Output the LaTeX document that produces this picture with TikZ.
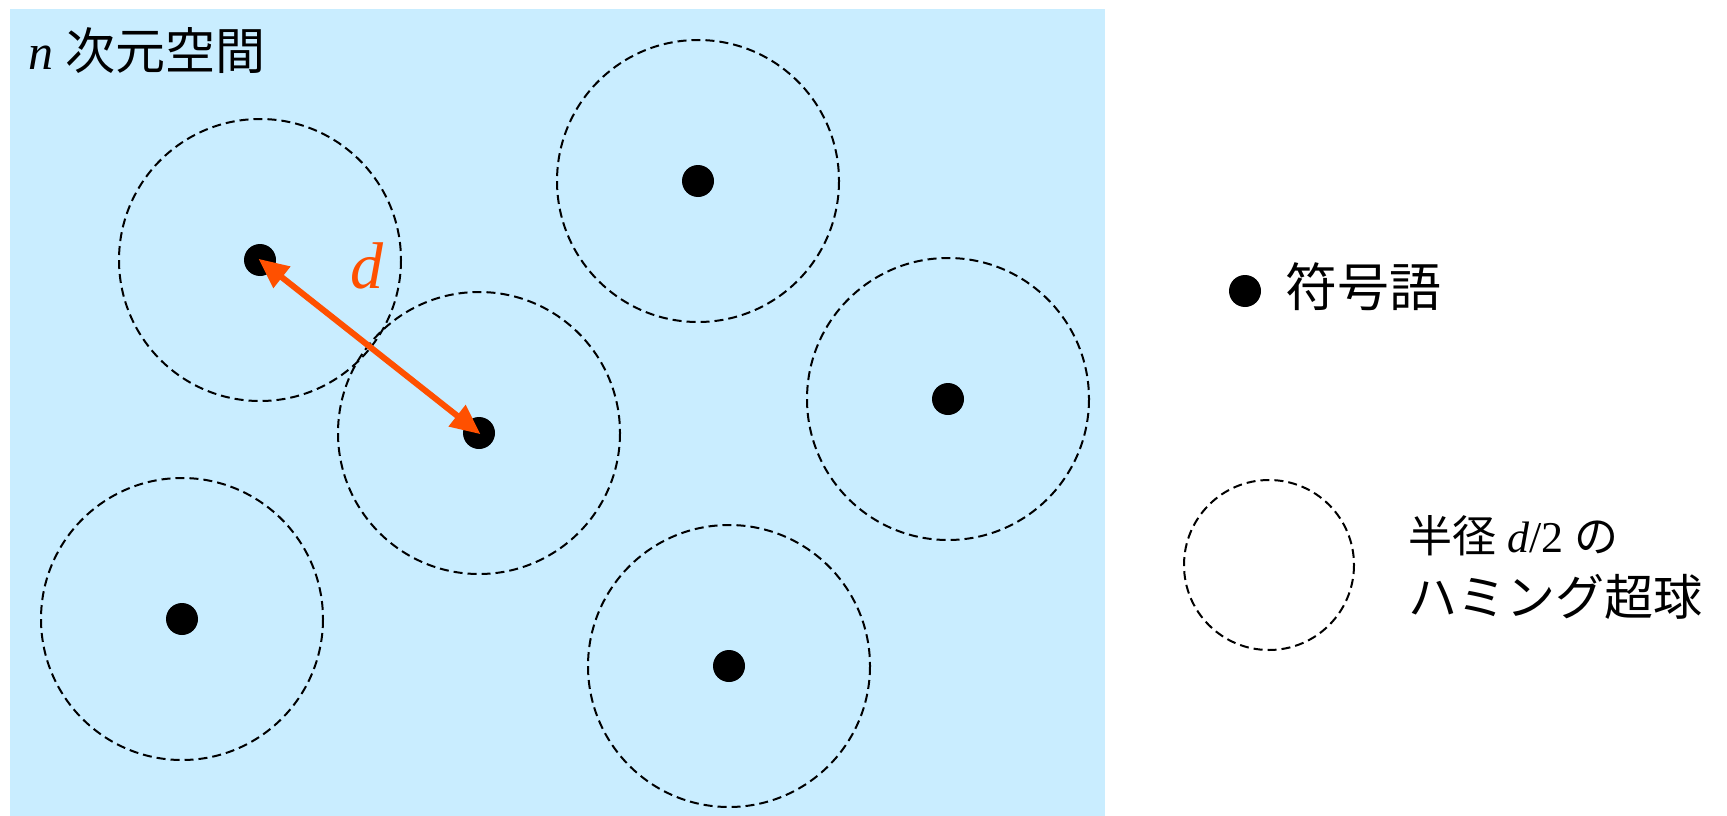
\documentclass[tikz,border=0pt]{standalone}
\usepackage{fontspec}
\setmainfont{Liberation Serif}
\newfontfamily\jp{Noto Sans CJK JP}
\usetikzlibrary{arrows.meta}
\definecolor{bgblue}{HTML}{C9EDFF}
\definecolor{arroworange}{HTML}{FF5000}
\tikzset{
  hball/.style={draw=black, line width=2pt, dash pattern=on 9pt off 5pt},
  cword/.style={fill=black, circle, inner sep=0pt, minimum size=32pt},
}
\begin{document}
\begin{tikzpicture}[x=1pt,y=-1pt]
\useasboundingbox (0,0) rectangle (1727,816);
\fill[bgblue] (10,9) rectangle (1105,816);
\node[anchor=west, inner sep=0pt, font=\fontsize{50}{56}\selectfont] (title) at (28,51) {\textit{n} {\jp 次元空間}};
% hyperspheres
\draw[hball] (260,260) circle[radius=141];
\draw[hball] (479,433) circle[radius=141];
\draw[hball] (698,181) circle[radius=141];
\draw[hball] (948,399) circle[radius=141];
\draw[hball] (182,619) circle[radius=141];
\draw[hball] (729,666) circle[radius=141];
% codewords
\node[cword] (c1) at (260,260) {};
\node[cword] (c2) at (479,433) {};
\node[cword] (c3) at (698,181) {};
\node[cword] (c4) at (948,399) {};
\node[cword] (c5) at (182,619) {};
\node[cword] (c6) at (729,666) {};
\draw[arroworange, line width=6pt, {Triangle[length=30pt,width=26pt]}-{Triangle[length=30pt,width=26pt]}, shorten <=-2pt, shorten >=-2pt] (c1.center) -- (c2.center);
\node[arroworange, inner sep=0pt, font=\fontsize{66}{70}\selectfont] (dlab) at (367,266) {\textit{d}};
% legend
\node[cword] (lc) at (1245,291) {};
\node[anchor=west, inner sep=0pt, font=\fontsize{52}{56}\selectfont\jp] (lt1) at (1285,287) {符号語};
\draw[hball] (1269,565) circle[radius=85];
\node[anchor=west, inner sep=0pt, align=left, font=\fontsize{49}{63}\selectfont] (lt2) at (1408,567) {{\fontsize{44}{44}\selectfont{\jp 半径} \textit{d}/2 {\jp の}}\\{\jp ハミング超球}};
\end{tikzpicture}
\end{document}
